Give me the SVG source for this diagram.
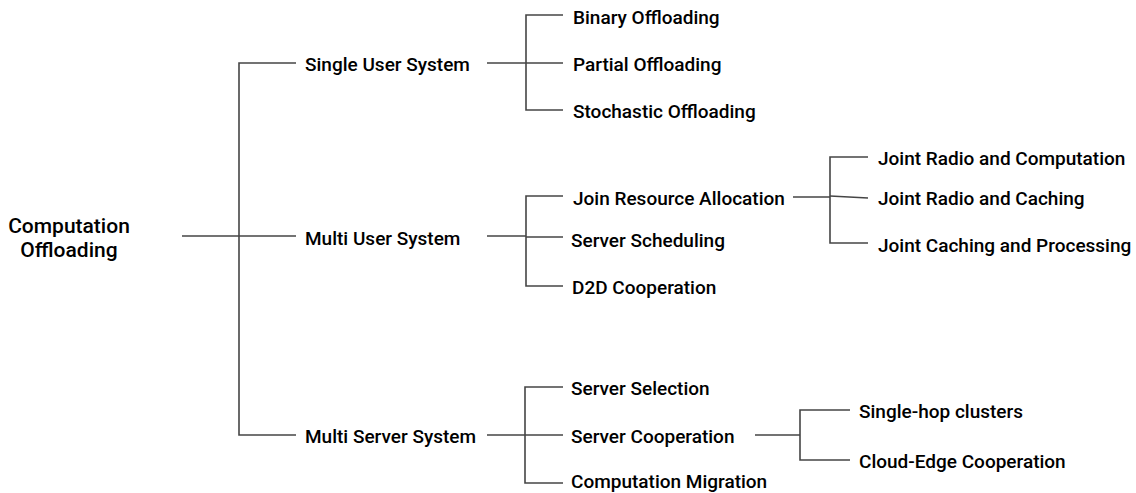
<svg xmlns="http://www.w3.org/2000/svg" width="1136" height="493" viewBox="0 0 1136 493">
<style>
text{font-family:Roboto,"Liberation Sans",sans-serif;font-size:19px;font-weight:500;fill:#000;dominant-baseline:central}
.root{font-size:21px;text-anchor:middle}
.c line,.c polyline{stroke:#454545;stroke-width:1.6;fill:none}
</style>
<rect width="1136" height="493" fill="#fff"/>
<g class="c" id="connectors">
<line x1="182" y1="236" x2="239" y2="236"/>
<polyline points="296,63 239,63 239,435 296,435"/>
<line x1="239" y1="236" x2="296" y2="236"/>
<line x1="487" y1="63" x2="526" y2="63"/>
<polyline points="563,15 526,15 526,110 563,110"/>
<line x1="526" y1="63" x2="563" y2="63"/>
<line x1="487" y1="236" x2="526" y2="236"/>
<polyline points="563,196 526,196 526,286 563,286"/>
<line x1="526" y1="237" x2="563" y2="237"/>
<line x1="793" y1="197" x2="830" y2="197"/>
<polyline points="868,157 830,157 830,243 868,243"/>
<line x1="830" y1="196" x2="868" y2="198"/>
<line x1="487" y1="435" x2="525" y2="435"/>
<polyline points="563,387 525,387 525,483 563,483"/>
<line x1="525" y1="435" x2="563" y2="435"/>
<line x1="755" y1="435" x2="800" y2="435"/>
<polyline points="850,410 800,410 800,460 850,460"/>
</g>
<g id="root"><text class="root" x="69" y="226">Computation</text><text class="root" x="69" y="250">Offloading</text></g>
<g id="single-user"><text x="305" y="64">Single User System</text></g>
<g id="multi-user"><text x="305" y="238">Multi User System</text></g>
<g id="multi-server"><text x="305" y="436">Multi Server System</text></g>
<g id="binary"><text x="573" y="17">Binary Offloading</text></g>
<g id="partial"><text x="573" y="64">Partial Offloading</text></g>
<g id="stochastic"><text x="573" y="111">Stochastic Offloading</text></g>
<g id="join-resource"><text x="573" y="198">Join Resource Allocation</text></g>
<g id="server-scheduling"><text x="571" y="240">Server Scheduling</text></g>
<g id="d2d"><text x="572" y="287">D2D Cooperation</text></g>
<g id="jrc"><text x="878" y="158">Joint Radio and Computation</text></g>
<g id="jrca"><text x="878" y="198">Joint Radio and Caching</text></g>
<g id="jcp"><text x="878" y="245">Joint Caching and Processing</text></g>
<g id="server-selection"><text x="571" y="388">Server Selection</text></g>
<g id="server-cooperation"><text x="571" y="436">Server Cooperation</text></g>
<g id="migration"><text x="571" y="481">Computation Migration</text></g>
<g id="single-hop"><text x="859" y="411">Single-hop clusters</text></g>
<g id="cloud-edge"><text x="859" y="461">Cloud-Edge Cooperation</text></g>
</svg>
